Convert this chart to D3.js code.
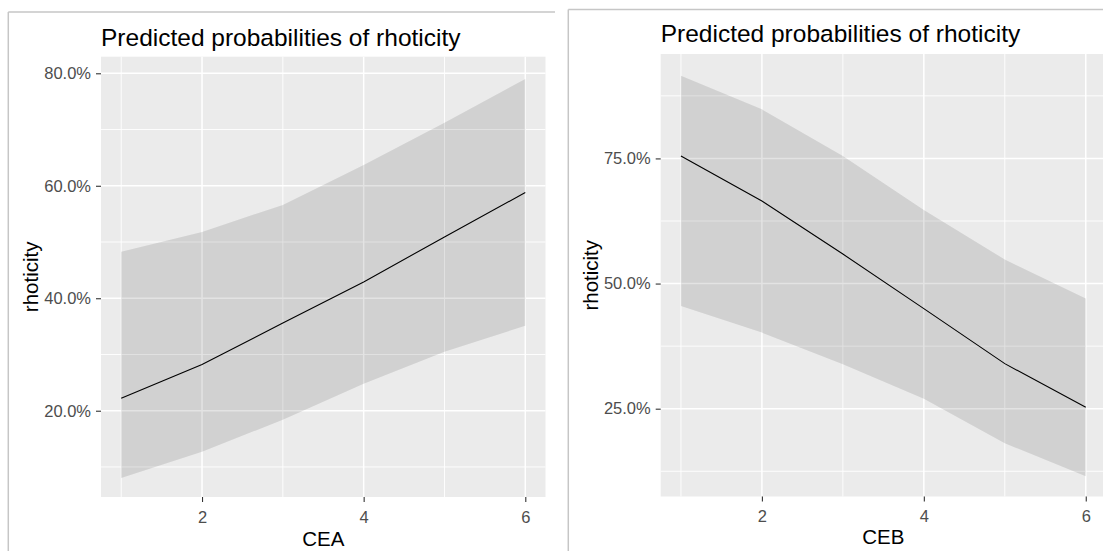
<!DOCTYPE html>
<html>
<head>
<meta charset="utf-8">
<script src="https://cdn.jsdelivr.net/npm/d3@7"></script>
<style>
  html, body { margin: 0; padding: 0; background: #fff; }
  svg { display: block; font-family: "Liberation Sans", Arial, sans-serif; }
</style>
</head>
<body>
<svg id="chart" width="1103" height="551"></svg>
<script>
// Predicted probabilities (percent) with confidence band, by CEA level
const ceaLevels = [1, 2, 3, 4, 5, 6];
const ceaPredicted = [22.2, 28.2, 35.6, 42.9, 50.9, 58.8];
const ceaLower = [8.05, 12.7, 18.4, 24.8, 30.5, 35.1];
const ceaUpper = [48.25, 51.8, 56.6, 63.7, 71.2, 79.0];
const ceaYTicks = [20, 40, 60, 80];
const ceaYMinor = [10, 30, 50, 70];
const ceaYLimits = [4.66, 82.95];

// Predicted probabilities (percent) with confidence band, by CEB level
const cebLevels = [1, 2, 3, 4, 5, 6];
const cebPredicted = [75.5, 66.5, 55.9, 45.0, 34.0, 25.3];
const cebLower = [45.5, 40.2, 33.9, 27.0, 18.1, 11.5];
const cebUpper = [91.5, 84.8, 75.5, 64.7, 54.8, 47.0];
const cebYTicks = [25, 50, 75];
const cebYMinor = [12.5, 37.5, 62.5, 87.5];
const cebYLimits = [7.46, 95.86];

const xTicks = [2, 4, 6];
const xMinor = [1, 3, 5];
const xLimits = [0.75, 6.25];

const chartTitle = "Predicted probabilities of rhoticity";
const yTitle = "rhoticity";

const svg = d3.select("#chart");

const panels = [
  {
    xLabel: "CEA", levels: ceaLevels, pred: ceaPredicted, lo: ceaLower, hi: ceaUpper,
    yTicks: ceaYTicks, yMinor: ceaYMinor, yLimits: ceaYLimits,
    frame: { x: 8.3, y: 12, right: 555 },
    plot: { left: 101, right: 545.5, top: 56.7, bottom: 497 },
    titleY: 46, tickLabelY: 523, xTitleY: 546, yTitleX: 37.5
  },
  {
    xLabel: "CEB", levels: cebLevels, pred: cebPredicted, lo: cebLower, hi: cebUpper,
    yTicks: cebYTicks, yMinor: cebYMinor, yLimits: cebYLimits,
    frame: { x: 568.3, y: 9.5, right: 1103 },
    plot: { left: 660.7, right: 1106, top: 54, bottom: 496.5 },
    titleY: 42, tickLabelY: 521.5, xTitleY: 544, yTitleX: 598
  }
];

panels.forEach(p => {
  const g = svg.append("g");

  // window frame edges
  g.append("line")
    .attr("x1", p.frame.x).attr("x2", p.frame.x)
    .attr("y1", p.frame.y).attr("y2", 551)
    .attr("stroke", "#c6c6c6").attr("stroke-width", 1.5);
  g.append("line")
    .attr("x1", p.frame.x).attr("x2", p.frame.right)
    .attr("y1", p.frame.y).attr("y2", p.frame.y)
    .attr("stroke", "#c6c6c6").attr("stroke-width", 1.5);

  const x = d3.scaleLinear().domain(xLimits).range([p.plot.left, p.plot.right]);
  const y = d3.scaleLinear().domain(p.yLimits).range([p.plot.bottom, p.plot.top]);

  // panel background
  g.append("rect")
    .attr("x", p.plot.left).attr("y", p.plot.top)
    .attr("width", p.plot.right - p.plot.left)
    .attr("height", p.plot.bottom - p.plot.top)
    .attr("fill", "#ebebeb");

  // grid lines
  const grid = g.append("g").attr("stroke", "#ffffff");
  p.yMinor.forEach(v => grid.append("line")
    .attr("x1", p.plot.left).attr("x2", p.plot.right)
    .attr("y1", y(v)).attr("y2", y(v)).attr("stroke-width", 0.9));
  xMinor.forEach(v => grid.append("line")
    .attr("x1", x(v)).attr("x2", x(v))
    .attr("y1", p.plot.top).attr("y2", p.plot.bottom).attr("stroke-width", 0.9));
  p.yTicks.forEach(v => grid.append("line")
    .attr("x1", p.plot.left).attr("x2", p.plot.right)
    .attr("y1", y(v)).attr("y2", y(v)).attr("stroke-width", 1.5));
  xTicks.forEach(v => grid.append("line")
    .attr("x1", x(v)).attr("x2", x(v))
    .attr("y1", p.plot.top).attr("y2", p.plot.bottom).attr("stroke-width", 1.5));

  const rows = p.levels.map((lv, i) => ({ lv, pred: p.pred[i], lo: p.lo[i], hi: p.hi[i] }));

  // confidence band
  g.append("path")
    .datum(rows)
    .attr("fill", "#000")
    .attr("fill-opacity", 0.11)
    .attr("d", d3.area().x(d => x(d.lv)).y0(d => y(d.lo)).y1(d => y(d.hi)));

  // predicted line
  g.append("path")
    .datum(rows)
    .attr("fill", "none")
    .attr("stroke", "#000")
    .attr("stroke-width", 1.1)
    .attr("d", d3.line().x(d => x(d.lv)).y(d => y(d.pred)));

  // y axis
  const yAxis = g.append("g")
    .attr("transform", `translate(${p.plot.left},0)`)
    .call(d3.axisLeft(y).tickValues(p.yTicks).tickSize(5).tickPadding(5)
      .tickFormat(v => v.toFixed(1) + "%"));
  yAxis.select(".domain").remove();
  yAxis.selectAll(".tick line").attr("stroke", "#333").attr("stroke-width", 1.1);
  yAxis.selectAll(".tick text")
    .attr("fill", "#4d4d4d").attr("font-size", "16.5px")
    .attr("font-family", "Liberation Sans, Arial, sans-serif");

  // x axis
  const xAxis = g.append("g")
    .attr("transform", `translate(0,${p.plot.bottom})`)
    .call(d3.axisBottom(x).tickValues(xTicks).tickSize(5).tickPadding(0)
      .tickFormat(d3.format("d")));
  xAxis.select(".domain").remove();
  xAxis.selectAll(".tick line").attr("stroke", "#333").attr("stroke-width", 1.1);
  xAxis.selectAll(".tick text")
    .attr("fill", "#4d4d4d").attr("font-size", "16.5px")
    .attr("font-family", "Liberation Sans, Arial, sans-serif")
    .attr("dy", null)
    .attr("y", p.tickLabelY - p.plot.bottom);

  // titles
  g.append("text")
    .attr("x", p.plot.left).attr("y", p.titleY)
    .attr("font-size", "24.5px").attr("fill", "#000")
    .text(chartTitle);

  g.append("text")
    .attr("x", (p.plot.left + p.plot.right) / 2).attr("y", p.xTitleY)
    .attr("text-anchor", "middle")
    .attr("font-size", "20.5px").attr("fill", "#000")
    .text(p.xLabel);

  g.append("text")
    .attr("transform", `translate(${p.yTitleX},${(p.plot.top + p.plot.bottom) / 2}) rotate(-90)`)
    .attr("text-anchor", "middle")
    .attr("font-size", "20.5px").attr("fill", "#000")
    .text(yTitle);
});
</script>
</body>
</html>
